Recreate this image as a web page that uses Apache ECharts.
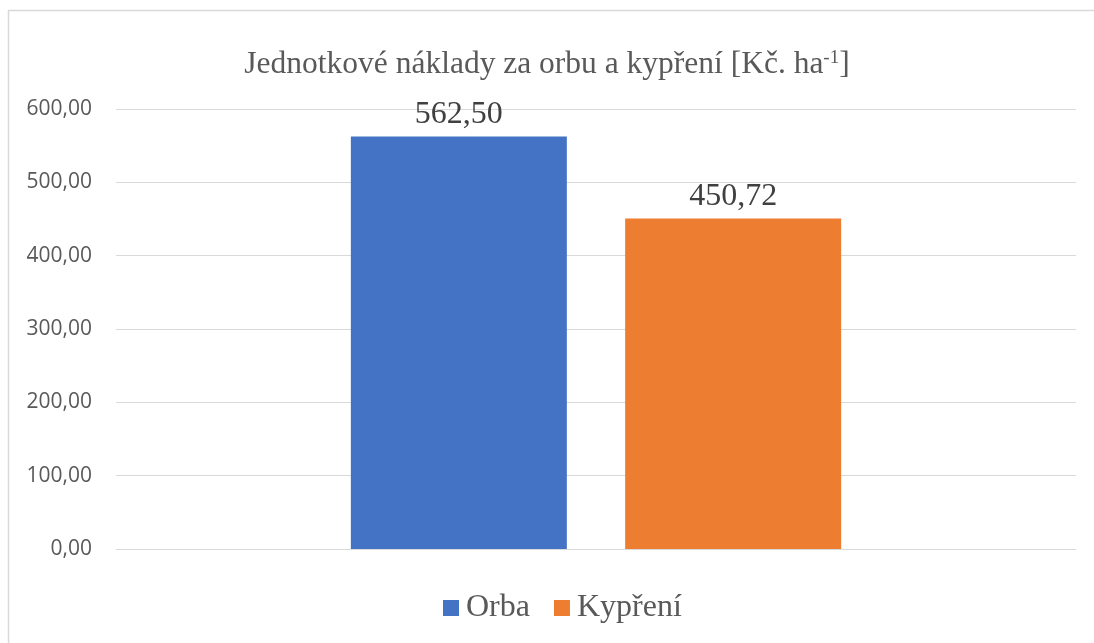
<!DOCTYPE html>
<html>
<head>
<meta charset="utf-8">
<script src="https://cdn.jsdelivr.net/npm/echarts@6/dist/echarts.min.js"></script>
<style>
  html, body { margin: 0; padding: 0; background: #fff; overflow: hidden; }
  #chart { width: 1094px; height: 643px; }
</style>
</head>
<body>
<div id="chart"></div>
<script>
const categories = [''];
const seriesNames = ['Orba', 'Kypření'];
const orbaValues = [562.50];
const kypreniValues = [450.72];
const seriesColors = ['#4472C4', '#ED7D31'];

const fmt = v => v.toFixed(2).replace('.', ',');
const serif = '"Liberation Serif", "Times New Roman", serif';

const chart = echarts.init(document.getElementById('chart'));

// chart frame: only left and top edges are visible in the picture
const frame = {
  type: 'polyline',
  shape: { points: [[8.5, 700], [8.5, 10.5], [1200, 10.5]] },
  style: { fill: null, stroke: '#d9d9d9', lineWidth: 1.5 },
  silent: true
};

const barLabel = {
  show: true,
  position: 'top',
  distance: 6,
  formatter: p => fmt(p.value),
  fontFamily: serif,
  fontSize: 32,
  color: '#404040'
};

const option = {
  animation: false,
  backgroundColor: '#fff',
  graphic: [frame],
  title: {
    text: '{t|Jednotkové náklady za orbu a kypření [Kč. ha}{s|-1}{t|]}',
    left: 'center',
    top: 44,
    textStyle: {
      fontWeight: 'normal',
      rich: {
        t: { fontFamily: serif, fontSize: 31.5, color: '#595959', fontWeight: 'normal' },
        s: { fontFamily: serif, fontSize: 19, color: '#595959', fontWeight: 'normal', verticalAlign: 'top', padding: [0, 0, 12, 0] }
      }
    }
  },
  legend: {
    data: seriesNames,
    top: 587,
    left: 438,
    icon: 'rect',
    itemWidth: 16,
    itemHeight: 16,
    itemGap: 24,
    textStyle: { fontFamily: serif, fontSize: 32, color: '#595959', padding: [0, 0, 0, 2] }
  },
  grid: { left: 116, right: 18, top: 109, bottom: 94, containLabel: false },
  xAxis: {
    type: 'category',
    data: categories,
    axisLine: { lineStyle: { color: '#d9d9d9', width: 1 } },
    axisTick: { show: false },
    axisLabel: { show: false }
  },
  yAxis: {
    type: 'value',
    min: 0,
    max: 600,
    interval: 100,
    axisLine: { show: false },
    axisTick: { show: false },
    splitLine: { lineStyle: { color: '#d9d9d9', width: 1 } },
    axisLabel: {
      formatter: v => fmt(v),
      fontFamily: '"Open Sans", sans-serif',
      fontSize: 21,
      color: '#595959',
      margin: 24
    }
  },
  series: [
    {
      name: seriesNames[0],
      type: 'bar',
      data: orbaValues,
      barWidth: 216,
      barGap: '27%',
      itemStyle: { color: seriesColors[0] },
      label: barLabel
    },
    {
      name: seriesNames[1],
      type: 'bar',
      data: kypreniValues,
      barWidth: 216,
      barGap: '27%',
      itemStyle: { color: seriesColors[1] },
      label: barLabel
    }
  ]
};

chart.setOption(option);
</script>
</body>
</html>
